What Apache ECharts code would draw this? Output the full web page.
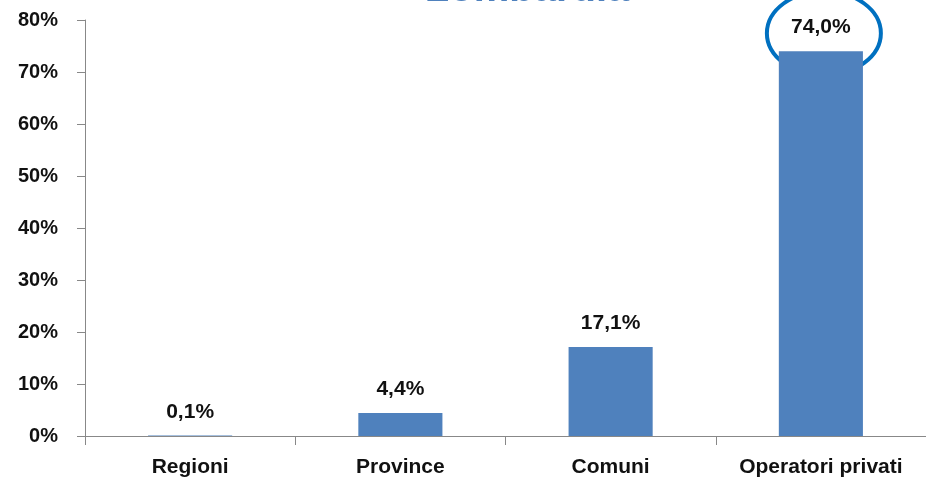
<!DOCTYPE html>
<html>
<head>
<meta charset="utf-8">
<script src="https://cdn.jsdelivr.net/npm/echarts@6/dist/echarts.min.js"></script>
<style>html,body{margin:0;padding:0;background:#fff}#c{width:926px;height:483px}</style>
</head>
<body>
<div id="c"></div>
<script>
const categories = ['Regioni', 'Province', 'Comuni', 'Operatori privati'];
const values = [0.1, 4.4, 17.1, 74.0];
const yTicks = [0, 10, 20, 30, 40, 50, 60, 70, 80];
const titleText = 'Lombardia';
const highlightIndex = 3;

const FONT = '"Liberation Sans", Arial, sans-serif';
const chart = echarts.init(document.getElementById('c'));
chart.setOption({
  animation: false,
  grid: { left: 85, right: 0, top: 20, bottom: 47 },
  xAxis: {
    type: 'category',
    data: categories,
    axisLine: { lineStyle: { color: '#888', width: 1 } },
    axisTick: { show: true, alignWithLabel: false, length: 9, lineStyle: { color: '#888' } },
    axisLabel: { margin: 21, color: '#111', fontFamily: FONT, fontWeight: 'bold', fontSize: 21, interval: 0 }
  },
  yAxis: {
    type: 'value',
    min: yTicks[0],
    max: yTicks[yTicks.length - 1],
    interval: 10,
    axisLine: { show: true, lineStyle: { color: '#888', width: 1 } },
    axisTick: { show: true, length: 8, lineStyle: { color: '#888' } },
    splitLine: { show: false },
    axisLabel: { margin: 27, color: '#111', fontFamily: FONT, fontWeight: 'bold', fontSize: 20, formatter: v => v + '%' }
  },
  series: [{
    type: 'bar',
    data: values,
    barWidth: '40%',
    itemStyle: { color: '#4F81BD' },
    label: {
      show: true, position: 'top', distance: 13,
      color: '#111', fontFamily: FONT, fontWeight: 'bold', fontSize: 21,
      formatter: p => p.value.toFixed(1).replace('.', ',') + '%'
    }
  }]
});
const c = chart.convertToPixel({ xAxisIndex: 0, yAxisIndex: 0 }, [highlightIndex, values[highlightIndex]]);
chart.setOption({
  graphic: [
    {
      type: 'text',
      style: { text: titleText, x: 527, y: 10, align: 'center', verticalAlign: 'bottom',
        fill: '#4F81BD', font: 'bold 40px ' + FONT }
    },
    {
      type: 'ellipse',
      shape: { cx: c[0] + 3, cy: c[1] - 18, rx: 57, ry: 42 },
      style: { fill: 'none', stroke: '#0070C0', lineWidth: 4 }
    }
  ]
});
</script>
</body>
</html>
